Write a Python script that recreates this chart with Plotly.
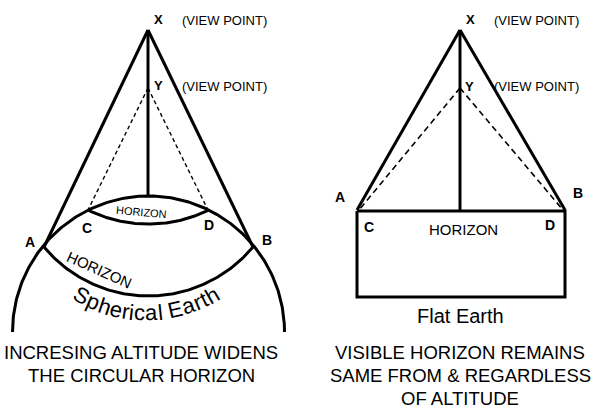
import numpy as np
import plotly.graph_objects as go

# ---- diagram geometry (pixel space, y downward) ----
# Spherical Earth (left)
L_X = [148, 30]
L_Y = [148, 88]
L_A = [44, 247]
L_B = [253, 247]
L_C = [88, 210]
L_D = [208, 210]
EARTH_CENTER = [148.5, 332]
EARTH_RADIUS = 136
ARC_AB_CENTER = [148.5, 160]
ARC_CD_CENTER = [148.5, 87]
L_MAST_BOTTOM = [148, 196]

# Flat Earth (right)
R_X = [460, 30]
R_Y = [460, 88]
R_A = [357, 210]
R_B = [565, 210]
R_DASH_END_L = [359, 210]
R_DASH_END_R = [563, 210]
RECT = [357, 211, 565, 297]  # x0, y0, x1, y1

labels_point = ["X", "Y", "A", "B", "C", "D"]
left_label_pos = [[158, 19], [158, 85], [30, 242], [267, 240], [87, 228], [209, 225]]
right_label_pos = [[470, 19], [469, 86], [340, 197], [578, 193], [369, 227], [550, 225]]
viewpoint_text = "(VIEW POINT)"
caption_left = ["INCRESING ALTITUDE WIDENS", "THE CIRCULAR HORIZON"]
caption_right = ["VISIBLE HORIZON REMAINS", "SAME FROM & REGARDLESS", "OF ALTITUDE"]
curved_text = "Spherical Earth"

FONT = "Liberation Sans, Arial, sans-serif"
BLACK = "#000000"

fig = go.Figure()


def seg(p, q, width=3, dash="solid"):
    fig.add_trace(go.Scatter(x=[p[0], q[0]], y=[p[1], q[1]], mode="lines",
                             line=dict(color=BLACK, width=width, dash=dash),
                             hoverinfo="skip"))


def arc_through(center, r, p, q, width=3):
    a0 = np.arctan2(p[1] - center[1], p[0] - center[0])
    a1 = np.arctan2(q[1] - center[1], q[0] - center[0])
    t = np.linspace(a0, a1, 120)
    fig.add_trace(go.Scatter(x=center[0] + r * np.cos(t), y=center[1] + r * np.sin(t),
                             mode="lines", line=dict(color=BLACK, width=width),
                             hoverinfo="skip"))


# Left diagram
t = np.linspace(np.pi, 2 * np.pi, 200)
fig.add_trace(go.Scatter(x=EARTH_CENTER[0] + EARTH_RADIUS * np.cos(t),
                         y=EARTH_CENTER[1] + EARTH_RADIUS * np.sin(t),
                         mode="lines", line=dict(color=BLACK, width=3), hoverinfo="skip"))
arc_through(ARC_AB_CENTER, np.hypot(L_A[0] - ARC_AB_CENTER[0], L_A[1] - ARC_AB_CENTER[1]), L_B, L_A)
arc_through(ARC_CD_CENTER, np.hypot(L_C[0] - ARC_CD_CENTER[0], L_C[1] - ARC_CD_CENTER[1]), L_D, L_C)
seg(L_X, L_A)
seg(L_X, L_B)
seg(L_X, L_MAST_BOTTOM)
seg(L_Y, L_C, width=1.4, dash="4px,3px")
seg(L_Y, L_D, width=1.4, dash="4px,3px")

# Right diagram
seg(R_X, R_A)
seg(R_X, R_B)
seg(R_X, [R_X[0], RECT[1]])
seg(R_Y, R_DASH_END_L, width=1.6, dash="6px,4px")
seg(R_Y, R_DASH_END_R, width=1.6, dash="6px,4px")
fig.add_trace(go.Scatter(x=[RECT[0], RECT[2], RECT[2], RECT[0], RECT[0]],
                         y=[RECT[1], RECT[1], RECT[3], RECT[3], RECT[1]],
                         mode="lines", line=dict(color=BLACK, width=3), hoverinfo="skip"))

ann = []


def text(x, y, s, size, bold=False, angle=0):
    ann.append(dict(x=x, y=y, xref="x", yref="y", text=("<b>%s</b>" % s) if bold else s,
                    showarrow=False, xanchor="center", yanchor="middle", textangle=angle,
                    font=dict(family=FONT, size=size, color=BLACK)))


for lab, pl, pr in zip(labels_point, left_label_pos, right_label_pos):
    sz = 13 if lab in ("X", "Y") else 14
    text(pl[0], pl[1], lab, sz, bold=True)
    text(pr[0], pr[1], lab, sz, bold=True)

text(224, 20, viewpoint_text, 13)
text(224, 86, viewpoint_text, 13)
text(536, 20, viewpoint_text, 13)
text(536, 86, viewpoint_text, 13)

text(141, 212, "HORIZON", 11, angle=5)
text(99, 269, "HORIZON", 15, angle=24)
text(463, 229, "HORIZON", 15)
text(460, 316, "Flat Earth", 20)

# Curved "Spherical Earth"
widths = {"S": .667, "p": .556, "h": .556, "e": .556, "r": .333, "i": .222, "c": .5,
          "a": .556, "l": .222, " ": .278, "E": .667, "t": .278}
fs = 22
adv = [widths[ch] * fs for ch in curved_text]
total = sum(adv)
cx, cy, R = 146, 181, 132
s = -total / 2
for ch, w in zip(curved_text, adv):
    mid = s + w / 2
    phi = mid / R
    if ch != " ":
        text(cx + R * np.sin(phi), cy + R * np.cos(phi), ch, fs, angle=-np.degrees(phi))
    s += w

for i, line in enumerate(caption_left):
    text(141, 352 + 23 * i, line, 18.5)
for i, line in enumerate(caption_right):
    text(460, 352 + 23 * i, line, 18.5)

fig.update_layout(
    width=594, height=414, margin=dict(l=0, r=0, t=0, b=0),
    paper_bgcolor="white", plot_bgcolor="white", showlegend=False,
    xaxis=dict(range=[0, 594], visible=False, fixedrange=True),
    yaxis=dict(range=[414, 0], visible=False, fixedrange=True),
    annotations=ann,
)
fig.write_html("out.html", config={"displayModeBar": False},
               post_script="document.body.style.margin='0px';document.body.style.padding='0px';")
